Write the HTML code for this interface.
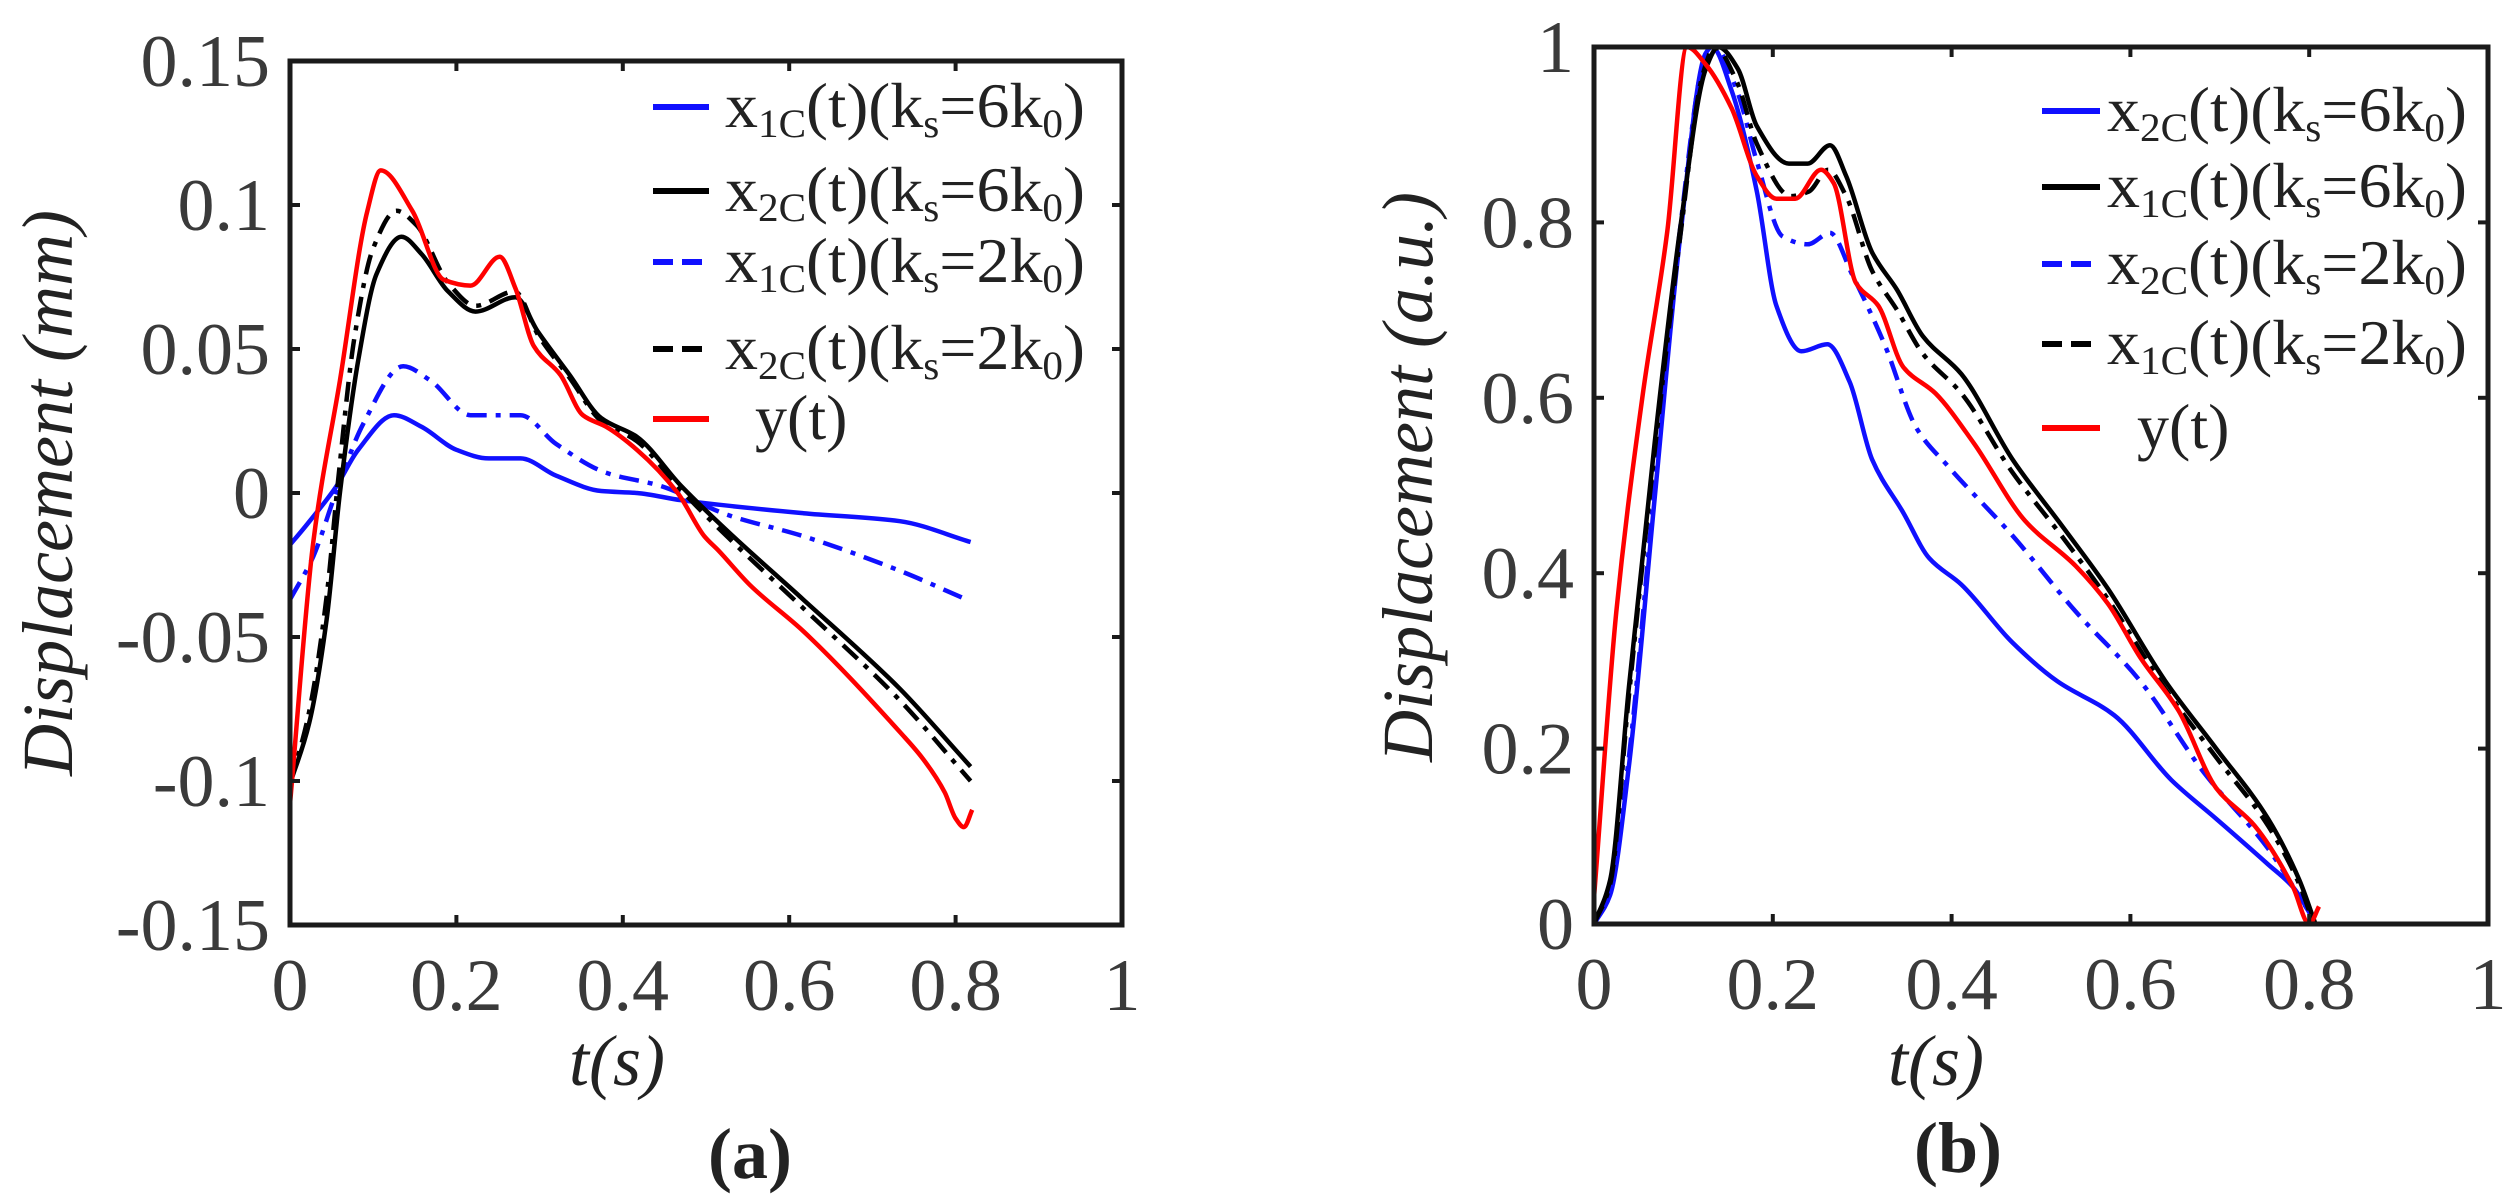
<!DOCTYPE html>
<html><head><meta charset="utf-8"><style>
html,body{margin:0;padding:0;background:#fff;}
svg{display:block;}
svg text{font-family:"Liberation Serif","Times New Roman",Times,"Nimbus Roman","DejaVu Serif",serif !important;}
</style></head><body>
<svg id="fig" width="2512" height="1200" viewBox="0 0 2512 1200" xmlns="http://www.w3.org/2000/svg"></svg>
<script>
// ---------- Panel (a) data ----------
const aXTicks = [0, 0.2, 0.4, 0.6, 0.8, 1];
const aXTickLabels = ["0", "0.2", "0.4", "0.6", "0.8", "1"];
const aYTicks = [0.15, 0.1, 0.05, 0, -0.05, -0.1, -0.15];
const aYTickLabels = ["0.15", "0.1", "0.05", "0", "-0.05", "-0.1", "-0.15"];
const aRedT = [0,0.028,0.06,0.093,0.109,0.147,0.185,0.217,0.252,0.271,0.293,0.325,0.352,0.38,0.417,0.466,0.498,0.515,0.553,0.617,0.733,0.76,0.787,0.80,0.81,0.82];
const aRedV = [-0.108,-0.017,0.039,0.098,0.112,0.098,0.074,0.072,0.082,0.071,0.051,0.041,0.027,0.023,0.015,0,-0.015,-0.02,-0.032,-0.048,-0.083,-0.092,-0.104,-0.113,-0.116,-0.11];
const aBlkT = [0,0.023,0.044,0.06,0.082,0.104,0.134,0.158,0.19,0.223,0.271,0.298,0.336,0.374,0.417,0.47,0.525,0.617,0.733,0.818];
const aBlkV = [-0.101,-0.08,-0.044,0,0.046,0.076,0.089,0.083,0.07,0.063,0.068,0.056,0.041,0.026,0.0195,0.0025,-0.013,-0.037,-0.068,-0.095];
const aBlkDT = [0,0.023,0.044,0.058,0.078,0.1,0.128,0.152,0.19,0.223,0.27,0.298,0.336,0.374,0.417,0.47,0.525,0.617,0.733,0.818];
const aBlkDV = [-0.101,-0.076,-0.036,0.005,0.055,0.085,0.098,0.093,0.073,0.065,0.07,0.055,0.04,0.025,0.018,0.001,-0.015,-0.04,-0.072,-0.1];
const aBluT = [0,0.023,0.055,0.082,0.125,0.158,0.2,0.239,0.277,0.32,0.374,0.417,0.47,0.617,0.733,0.818];
const aBluV = [-0.018,-0.01,0.002,0.015,0.027,0.023,0.015,0.012,0.012,0.006,0.0007,0,-0.0025,-0.007,-0.0098,-0.017];
const aBluDT = [0,0.028,0.055,0.088,0.136,0.169,0.217,0.277,0.32,0.38,0.445,0.525,0.617,0.733,0.81];
const aBluDV = [-0.037,-0.022,0,0.024,0.044,0.039,0.027,0.027,0.017,0.007,0.0025,-0.0075,-0.015,-0.027,-0.0366];

// ---------- Panel (b) data ----------
const bXTicks = [0, 0.2, 0.4, 0.6, 0.8, 1];
const bXTickLabels = ["0", "0.2", "0.4", "0.6", "0.8", "1"];
const bYTicks = [0, 0.2, 0.4, 0.6, 0.8, 1];
const bYTickLabels = ["0", "0.2", "0.4", "0.6", "0.8", "1"];
const bRedT = [0,0.025,0.054,0.082,0.104,0.125,0.154,0.182,0.204,0.225,0.254,0.268,0.293,0.318,0.346,0.382,0.425,0.482,0.539,0.575,0.611,0.654,0.696,0.739,0.782,0.8,0.811];
const bRedV = [0.03,0.356,0.6,0.79,1.0,0.98,0.93,0.853,0.827,0.827,0.86,0.845,0.731,0.705,0.635,0.605,0.548,0.46,0.408,0.365,0.304,0.243,0.155,0.112,0.042,0,0.02];
const bBlkT = [0,0.018,0.039,0.068,0.096,0.125,0.139,0.161,0.182,0.218,0.239,0.264,0.282,0.311,0.339,0.368,0.411,0.468,0.525,0.575,0.639,0.696,0.754,0.789,0.807];
const bBlkV = [0,0.05,0.27,0.55,0.79,0.975,1.0,0.975,0.91,0.867,0.867,0.888,0.853,0.766,0.723,0.67,0.627,0.53,0.452,0.382,0.277,0.2,0.12,0.05,0];
const bBlkDT = [0,0.018,0.039,0.068,0.096,0.122,0.135,0.16,0.182,0.22,0.24,0.262,0.282,0.311,0.339,0.368,0.411,0.468,0.525,0.575,0.639,0.696,0.754,0.789,0.805];
const bBlkDV = [0,0.045,0.26,0.54,0.78,0.97,1.0,0.96,0.89,0.83,0.835,0.86,0.83,0.745,0.7,0.65,0.605,0.515,0.44,0.37,0.268,0.19,0.112,0.045,0];
const bBluT = [0,0.018,0.039,0.068,0.096,0.125,0.132,0.154,0.182,0.204,0.232,0.261,0.286,0.311,0.346,0.375,0.411,0.468,0.518,0.582,0.646,0.696,0.754,0.782,0.804];
const bBluV = [0,0.033,0.18,0.487,0.78,0.993,1.0,0.95,0.836,0.705,0.653,0.661,0.618,0.53,0.469,0.417,0.387,0.321,0.277,0.238,0.164,0.12,0.068,0.042,0.007];
const bBluDT = [0,0.018,0.039,0.068,0.096,0.125,0.135,0.16,0.182,0.211,0.239,0.264,0.289,0.325,0.361,0.396,0.468,0.539,0.611,0.682,0.754,0.804];
const bBluDV = [0,0.035,0.19,0.5,0.79,0.99,1.0,0.95,0.87,0.784,0.775,0.788,0.74,0.661,0.565,0.522,0.443,0.356,0.277,0.173,0.086,0.007];

const NS = "http://www.w3.org/2000/svg";
const svg = document.getElementById('fig');
function mk(tag, attrs, parent) {
  const e = document.createElementNS(NS, tag);
  for (const k in attrs) e.setAttribute(k, attrs[k]);
  (parent || svg).appendChild(e);
  return e;
}
function smoothPath(pts) {
  const n = pts.length;
  const dx = [], m = [];
  for (let i = 0; i < n - 1; i++) { dx.push(pts[i+1][0] - pts[i][0]); m.push((pts[i+1][1] - pts[i][1]) / dx[i]); }
  const tg = [m[0]];
  for (let i = 1; i < n - 1; i++) {
    if (m[i-1] * m[i] <= 0) tg.push(0);
    else { const w1 = 2*dx[i] + dx[i-1], w2 = dx[i] + 2*dx[i-1]; tg.push((w1 + w2) / (w1 / m[i-1] + w2 / m[i])); }
  }
  tg.push(m[n-2]);
  let d = "M" + pts[0][0].toFixed(1) + "," + pts[0][1].toFixed(1);
  for (let i = 0; i < n - 1; i++) {
    const h = dx[i] / 3;
    d += " C" + (pts[i][0] + h).toFixed(1) + "," + (pts[i][1] + tg[i]*h).toFixed(1) + " " +
         (pts[i+1][0] - h).toFixed(1) + "," + (pts[i+1][1] - tg[i+1]*h).toFixed(1) + " " +
         pts[i+1][0].toFixed(1) + "," + pts[i+1][1].toFixed(1);
  }
  return d;
}

function panel(cfg) {
  const g = mk('g', {});
  
  
  const L = cfg.L, R = cfg.R, T = cfg.T, B = cfg.B;
  const xs = v => L + (v - cfg.xmin) / (cfg.xmax - cfg.xmin) * (R - L);
  const ys = v => B - (v - cfg.ymin) / (cfg.ymax - cfg.ymin) * (B - T);
  cfg.series.forEach(s => {
    const pts = s.t.map((t, i) => [xs(t), ys(s.v[i])]);
    const p = mk('path', {d: smoothPath(pts), fill: 'none', stroke: s.color, 'stroke-width': 4.5, 'stroke-linejoin': 'round'}, g);
    if (s.dash) p.setAttribute('stroke-dasharray', '20 9 5 9');
    
    
  });
  const fr = mk('rect', {x: L, y: T, width: R - L, height: B - T, fill: 'none', stroke: '#1a1a1a', 'stroke-width': 5}, g);
  
  
  cfg.xt.forEach((v, i) => {
    const x = xs(v);
    mk('line', {x1: x, y1: B, x2: x, y2: B - 10, stroke: '#1a1a1a', 'stroke-width': 4}, g);
    mk('line', {x1: x, y1: T, x2: x, y2: T + 10, stroke: '#1a1a1a', 'stroke-width': 4}, g);
    const tx = mk('text', {x: x, y: B + 85, 'font-size': 74, fill: '#3a3a3a', 'text-anchor': 'middle'}, g);
    tx.textContent = cfg.xl[i];
    
    
  });
  cfg.yt.forEach((v, i) => {
    const y = ys(v);
    mk('line', {x1: L, y1: y, x2: L + 10, y2: y, stroke: '#1a1a1a', 'stroke-width': 4}, g);
    mk('line', {x1: R, y1: y, x2: R - 10, y2: y, stroke: '#1a1a1a', 'stroke-width': 4}, g);
    const tx = mk('text', {x: L - 20, y: y + 25, 'font-size': 74, fill: '#3a3a3a', 'text-anchor': 'end'}, g);
    tx.textContent = cfg.yl[i];
    
    
  });
  const xt = mk('text', {x: cfg.xtx, y: cfg.xty, 'font-size': 72, 'font-style': 'italic', fill: '#222', 'text-anchor': 'middle'}, g);
  xt.textContent = 't(s)';
  
  
  const yt = mk('text', {x: 0, y: 0, 'font-size': 72, 'font-style': 'italic', fill: '#222', 'text-anchor': 'middle', transform: 'translate(' + cfg.ytx + ',' + cfg.yty + ') rotate(-90)'}, g);
  yt.textContent = cfg.ytitle;
  
  
  const pl = mk('text', {x: cfg.plx, y: cfg.ply, 'font-size': 72, 'font-weight': 'bold', fill: '#222', 'text-anchor': 'middle'}, g);
  pl.textContent = cfg.label;
  
  
  const lg = mk('g', {}, g);
  
  
  cfg.legend.forEach((e, i) => {
    const y = cfg.legY[i];
    const eg = mk('g', {}, lg);
    
    
    const ln = mk('line', {x1: cfg.legX0, y1: y, x2: cfg.legX1, y2: y, stroke: e.color, 'stroke-width': 6}, eg);
    if (e.dash) ln.setAttribute('stroke-dasharray', '20 9');
    const t = mk('text', {x: e.plain ? cfg.legTX + 30 : cfg.legTX, y: y + 20, 'font-size': 64, fill: '#222'}, eg);
    if (e.plain) { t.textContent = e.main; return; }
    t.setAttribute('textLength', cfg.legTW);
    t.setAttribute('lengthAdjust', 'spacingAndGlyphs');
    const parts = [['x', 0], [e.sub, 1], ['(t)(k', 0], ['s', 1], ['=' + e.k + 'k', 0], ['0', 1], [')', 0]];
    let cur = 0;
    parts.forEach(p => {
      const ts = mk('tspan', {}, t);
      ts.textContent = p[0];
      const want = p[1] ? 10 : 0;
      if (p[1]) ts.setAttribute('font-size', 40);
      ts.setAttribute('dy', want - cur);
      cur = want;
    });
  });
}

panel({name: 'panel-a', L: 290, R: 1122, T: 61, B: 925, xmin: 0, xmax: 1, ymin: -0.15, ymax: 0.15,
  xt: aXTicks, xl: aXTickLabels, yt: aYTicks, yl: aYTickLabels,
  xtx: 617, xty: 1085, ytx: 72, yty: 493, ytitle: 'Displacement (mm)', plx: 750, ply: 1178, label: '(a)',
  series: [
    {id: 'x1c-6k0-line', t: aBluT, v: aBluV, color: '#1010ff'},
    {id: 'x1c-2k0-line', t: aBluDT, v: aBluDV, color: '#1010ff', dash: true},
    {id: 'x2c-2k0-line', t: aBlkDT, v: aBlkDV, color: '#000', dash: true},
    {id: 'x2c-6k0-line', t: aBlkT, v: aBlkV, color: '#000'},
    {id: 'y-line', t: aRedT, v: aRedV, color: '#ff0000'}
  ],
  legX0: 653, legX1: 709, legTX: 725, legTW: 360, legY: [107, 191, 262, 349, 419],
  legend: [
    {sub: '1C', k: '6', color: '#1010ff'},
    {sub: '2C', k: '6', color: '#000'},
    {sub: '1C', k: '2', color: '#1010ff', dash: true},
    {sub: '2C', k: '2', color: '#000', dash: true},
    {plain: true, main: 'y(t)', color: '#ff0000'}
  ]
});

panel({name: 'panel-b', L: 1594, R: 2488, T: 47, B: 924, xmin: 0, xmax: 1, ymin: 0, ymax: 1,
  xt: bXTicks, xl: bXTickLabels, yt: bYTicks, yl: bYTickLabels,
  xtx: 1936, xty: 1085, ytx: 1432, yty: 477, ytitle: 'Displacement (a.u.)', plx: 1958, ply: 1172, label: '(b)',
  series: [
    {id: 'x2c-6k0-line', t: bBluT, v: bBluV, color: '#1010ff'},
    {id: 'x2c-2k0-line', t: bBluDT, v: bBluDV, color: '#1010ff', dash: true},
    {id: 'x1c-2k0-line', t: bBlkDT, v: bBlkDV, color: '#000', dash: true},
    {id: 'x1c-6k0-line', t: bBlkT, v: bBlkV, color: '#000'},
    {id: 'y-line', t: bRedT, v: bRedV, color: '#ff0000'}
  ],
  legX0: 2042, legX1: 2100, legTX: 2107, legTW: 360, legY: [111, 187, 264, 344, 428],
  legend: [
    {sub: '2C', k: '6', color: '#1010ff'},
    {sub: '1C', k: '6', color: '#000'},
    {sub: '2C', k: '2', color: '#1010ff', dash: true},
    {sub: '1C', k: '2', color: '#000', dash: true},
    {plain: true, main: 'y(t)', color: '#ff0000'}
  ]
});
</script>
</body></html>
